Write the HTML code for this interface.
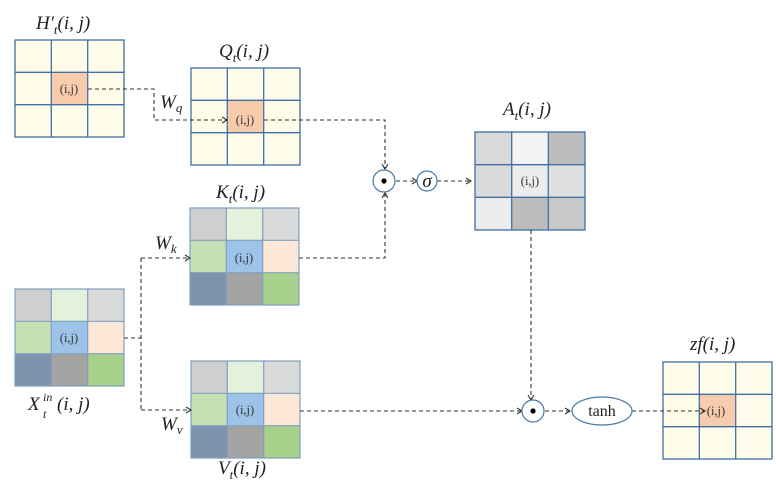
<!DOCTYPE html>
<html><head><meta charset="utf-8"><style>
html,body{margin:0;padding:0;background:#fff;width:776px;height:490px;overflow:hidden}
svg{display:block}
.m{font-family:"Liberation Serif","DejaVu Serif",serif;font-style:italic;font-size:19px;fill:#222}
.s{font-family:"Liberation Serif",serif;font-size:12.5px;fill:#333}
.d{stroke:#333;stroke-width:1.1;stroke-dasharray:4,3;fill:none}
.a{stroke:#333;stroke-width:1.1;fill:none}
</style></head><body>
<svg width="776" height="490" viewBox="0 0 776 490" xmlns="http://www.w3.org/2000/svg">
<defs>
<g id="yg">
<rect x="0" y="0" width="109" height="97" fill="#fffde9"/>
<rect x="36.3" y="32.3" width="36.3" height="32.3" fill="#f8cbad"/>
<g stroke="#3f6fa6" stroke-width="1.3" fill="none">
<rect x="0" y="0" width="109" height="97"/>
<line x1="36.3" y1="0" x2="36.3" y2="97"/><line x1="72.7" y1="0" x2="72.7" y2="97"/>
<line x1="0" y1="32.3" x2="109" y2="32.3"/><line x1="0" y1="64.7" x2="109" y2="64.7"/>
</g>
</g>
<g id="cg">
<rect x="0" y="0" width="36.3" height="32.3" fill="#d0cfd0"/>
<rect x="36.3" y="0" width="36.4" height="32.3" fill="#e4f1db"/>
<rect x="72.7" y="0" width="36.3" height="32.3" fill="#dadada"/>
<rect x="0" y="32.3" width="36.3" height="32.4" fill="#c5e1b3"/>
<rect x="36.3" y="32.3" width="36.4" height="32.4" fill="#9dc3e8"/>
<rect x="72.7" y="32.3" width="36.3" height="32.4" fill="#fde8d8"/>
<rect x="0" y="64.7" width="36.3" height="32.3" fill="#7f93ae"/>
<rect x="36.3" y="64.7" width="36.4" height="32.3" fill="#a3a3a3"/>
<rect x="72.7" y="64.7" width="36.3" height="32.3" fill="#a8d18b"/>
<g stroke="#7f9fc0" stroke-width="1.2" fill="none">
<rect x="0" y="0" width="109" height="97"/>
<line x1="36.3" y1="0" x2="36.3" y2="97"/><line x1="72.7" y1="0" x2="72.7" y2="97"/>
<line x1="0" y1="32.3" x2="109" y2="32.3"/><line x1="0" y1="64.7" x2="109" y2="64.7"/>
</g>
</g>
</defs>

<use href="#yg" x="15" y="40"/>
<use href="#yg" x="191" y="68"/>
<use href="#cg" x="190" y="208"/>
<use href="#cg" x="15" y="289"/>
<use href="#cg" x="191" y="361"/>
<use href="#yg" x="663" y="362"/>

<g transform="translate(475,132)">
<rect x="0" y="0" width="36.7" height="32.7" fill="#d9d9d9"/>
<rect x="36.7" y="0" width="36.6" height="32.7" fill="#f3f3f3"/>
<rect x="73.3" y="0" width="36.7" height="32.7" fill="#bcbcbc"/>
<rect x="0" y="32.7" width="36.7" height="32.6" fill="#dadada"/>
<rect x="36.7" y="32.7" width="36.6" height="32.6" fill="#ececec"/>
<rect x="73.3" y="32.7" width="36.7" height="32.6" fill="#e0e0e0"/>
<rect x="0" y="65.3" width="36.7" height="32.7" fill="#ececec"/>
<rect x="36.7" y="65.3" width="36.6" height="32.7" fill="#bcbcbc"/>
<rect x="73.3" y="65.3" width="36.7" height="32.7" fill="#c8c8c8"/>
<g stroke="#3f6fa6" stroke-width="1.3" fill="none">
<rect x="0" y="0" width="110" height="98"/>
<line x1="36.7" y1="0" x2="36.7" y2="98"/><line x1="73.3" y1="0" x2="73.3" y2="98"/>
<line x1="0" y1="32.7" x2="110" y2="32.7"/><line x1="0" y1="65.3" x2="110" y2="65.3"/>
</g>
</g>

<g class="s" text-anchor="middle">
<text x="69" y="93">(i,j)</text>
<text x="245" y="124">(i,j)</text>
<text x="244" y="262">(i,j)</text>
<text x="69" y="342">(i,j)</text>
<text x="245" y="414">(i,j)</text>
<text x="530" y="185">(i,j)</text>
<text x="716" y="415">(i,j)</text>
</g>

<g class="m">
<text x="36" y="29">H′<tspan font-size="13" dy="5">t</tspan><tspan dy="-5">(i, j)</tspan></text>
<text x="219" y="57">Q<tspan font-size="13" dy="5">t</tspan><tspan dy="-5">(i, j)</tspan></text>
<text x="216" y="198">K<tspan font-size="13" dy="5">t</tspan><tspan dy="-5">(i, j)</tspan></text>
<text x="503" y="115">A<tspan font-size="13" dy="5">t</tspan><tspan dy="-5">(i, j)</tspan></text>
<text x="690" y="350">zf(i, j)</text>
<text x="218" y="474">V<tspan font-size="13" dy="5">t</tspan><tspan dy="-5">(i, j)</tspan></text>
<text x="28" y="410">X</text>
<text x="43" y="401" font-size="12">in</text>
<text x="43" y="418" font-size="12">t</text>
<text x="57" y="410">(i, j)</text>
<text x="160" y="108">W<tspan font-size="13" dy="4">q</tspan></text>
<text x="155" y="249">W<tspan font-size="13" dy="4">k</tspan></text>
<text x="161" y="430">W<tspan font-size="13" dy="4">v</tspan></text>
</g>

<path class="d" d="M88,89 H154 V120 H226"/>
<path class="a" d="M222,117 L227,120 L222,123"/>
<path class="d" d="M264,120 H385 V168"/>
<path class="a" d="M382,164 L385,169 L388,164"/>
<path class="d" d="M299,258 H385 V194"/>
<path class="a" d="M382,198 L385,193 L388,198"/>
<path class="d" d="M124,338 H141"/>
<path class="d" d="M141,258 V410"/>
<path class="d" d="M141,258 H189"/>
<path class="a" d="M185,255 L190,258 L185,261"/>
<path class="d" d="M141,410 H190"/>
<path class="a" d="M186,407 L191,410 L186,413"/>
<path class="d" d="M396,181 H416"/>
<path class="a" d="M412,178 L417,181 L412,184"/>
<path class="d" d="M437,181 H470"/>
<path class="a" d="M466,178 L471,181 L466,184"/>
<path class="d" d="M300,411 H521"/>
<path class="a" d="M517,408 L522,411 L517,414"/>
<path class="d" d="M531,230 V399"/>
<path class="a" d="M528,395 L531,400 L534,395"/>
<path class="d" d="M545,411 H569"/>
<path class="a" d="M565,408 L570,411 L565,414"/>
<path class="d" d="M632,411 H704"/>
<path class="a" d="M700,408 L705,411 L700,414"/>

<circle cx="384" cy="181" r="11" fill="#fff" stroke="#4a78a8" stroke-width="1.2"/>
<circle cx="384" cy="181" r="2.6" fill="#000"/>
<circle cx="427" cy="181" r="10" fill="#fff" stroke="#4a78a8" stroke-width="1.2"/>
<text x="427" y="187" class="m" font-size="17" text-anchor="middle">σ</text>
<circle cx="533" cy="411" r="11" fill="#fff" stroke="#4a78a8" stroke-width="1.2"/>
<circle cx="533" cy="411" r="2.6" fill="#000"/>
<ellipse cx="602" cy="411" rx="30" ry="14" fill="#fff" stroke="#4a78a8" stroke-width="1.2"/>
<text x="602" y="416" font-family="Liberation Serif,serif" font-size="16" fill="#222" text-anchor="middle">tanh</text>
</svg>
</body></html>
